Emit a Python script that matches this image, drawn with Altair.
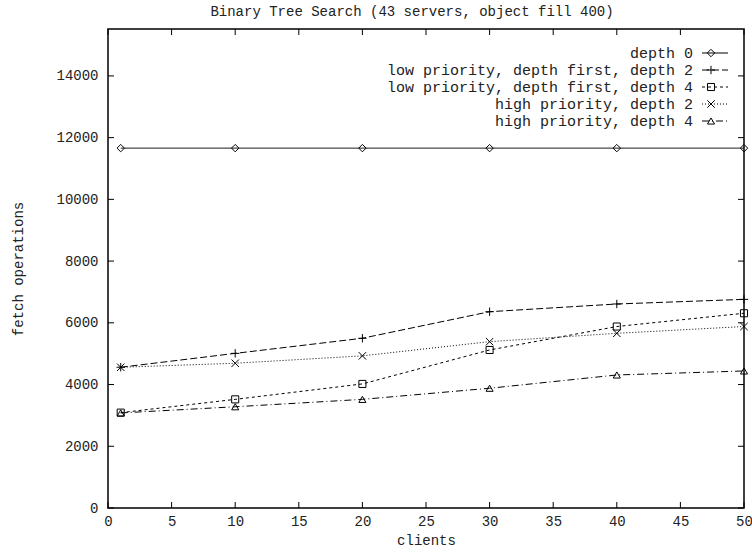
import altair as alt
import pandas as pd

# ---- data ----
clients = [1, 10, 20, 30, 40, 50]
depth0 = [11660, 11660, 11660, 11660, 11660, 11660]
low_d2 = [4560, 5010, 5500, 6360, 6610, 6760]
low_d4 = [3090, 3520, 4020, 5120, 5880, 6310]
high_d2 = [4560, 4690, 4930, 5390, 5660, 5880]
high_d4 = [3080, 3280, 3520, 3880, 4310, 4440]

series_names = [
    "depth 0",
    "low priority, depth first, depth 2",
    "low priority, depth first, depth 4",
    "high priority, depth 2",
    "high priority, depth 4",
]
series_values = [depth0, low_d2, low_d4, high_d2, high_d4]

x_ticks = [0, 5, 10, 15, 20, 25, 30, 35, 40, 45, 50]
y_ticks = [0, 2000, 4000, 6000, 8000, 10000, 12000, 14000]

# ---- styles ----
FONT = "Courier New, Liberation Mono, monospace"
FS = 14
LFS = 15
W, H = 636, 479
PLUS = "M-1,0L1,0M0,-1L0,1"
XMARK = "M-1,-1L1,1M-1,1L1,-1"
dashes = [[1, 0], [7, 3], [3, 3], [1, 2], [7, 3, 1, 3]]
shapes = ["diamond", PLUS, "square", XMARK, "triangle-up"]
sizes = [55, 70, 50, 55, 50]

x_enc = alt.X(
    "x:Q",
    scale=alt.Scale(domain=[0, 50], nice=False, zero=False),
    axis=alt.Axis(values=x_ticks, ticks=False, domain=False, grid=False, format="d",
                  labelFont=FONT, labelFontSize=FS, labelColor="#222",
                  labelPadding=6, title="clients", titleFont=FONT,
                  titleFontSize=FS, titleFontWeight="normal", titleColor="#222",
                  titlePadding=5, labelFlush=False),
)
y_enc = alt.Y(
    "y:Q",
    scale=alt.Scale(domain=[0, 15520], nice=False),
    axis=alt.Axis(values=y_ticks, ticks=False, domain=False, grid=False, format="d",
                  labelFont=FONT, labelFontSize=FS, labelColor="#222",
                  labelPadding=10, title="fetch operations", titleFont=FONT,
                  titleFontSize=FS, titleFontWeight="normal", titleColor="#222",
                  titlePadding=30),
)

layers = []
for i, (name, vals) in enumerate(zip(series_names, series_values)):
    df = pd.DataFrame({"x": clients, "y": vals})
    base = alt.Chart(df)
    layers.append(base.mark_line(color="black", strokeWidth=1, strokeDash=dashes[i]).encode(x=x_enc, y=y_enc))
    layers.append(base.mark_point(color="black", filled=False, shape=shapes[i], size=sizes[i],
                                  strokeWidth=1, opacity=1).encode(x=x_enc, y=y_enc))

# inward ticks on all four sides (mirrored)
xt = alt.Chart(pd.DataFrame({"x": x_ticks}))
yt = alt.Chart(pd.DataFrame({"y": y_ticks}))
layers.append(xt.mark_rule(color="black").encode(x=x_enc, y=alt.value(H), y2=alt.value(H - 6)))
layers.append(xt.mark_rule(color="black").encode(x=x_enc, y=alt.value(0), y2=alt.value(6)))
layers.append(yt.mark_rule(color="black").encode(y=y_enc, x=alt.value(0), x2=alt.value(6)))
layers.append(yt.mark_rule(color="black").encode(y=y_enc, x=alt.value(W), x2=alt.value(W - 6)))

# legend (top right, gnuplot style)
for i, name in enumerate(series_names):
    yy = 24 + 17 * i
    one = alt.Chart(pd.DataFrame({"name": [name]}))
    layers.append(one.mark_text(align="right", baseline="middle", font=FONT, fontSize=LFS,
                                color="#222").encode(x=alt.value(585), y=alt.value(yy),
                                                     text="name:N"))
    layers.append(one.mark_rule(color="black", strokeWidth=1, strokeDash=dashes[i]).encode(
        x=alt.value(594), x2=alt.value(620), y=alt.value(yy)))
    layers.append(one.mark_point(color="black", filled=False, shape=shapes[i], size=sizes[i],
                                 strokeWidth=1, opacity=1).encode(x=alt.value(603), y=alt.value(yy)))

chart = alt.layer(*layers).properties(
    width=W, height=H,
    title=alt.TitleParams("Binary Tree Search (43 servers, object fill 400)",
                          font=FONT, fontSize=FS, fontWeight="normal", color="#222",
                          anchor="middle", dx=-14, offset=10),
    autosize=alt.AutoSizeParams(type="none"),
    padding={"left": 108, "top": 29, "right": 8, "bottom": 44},
    background="white",
).configure_view(stroke="black", strokeWidth=1.5)

chart.save("out.html", embed_options={"renderer": "svg", "actions": False})
